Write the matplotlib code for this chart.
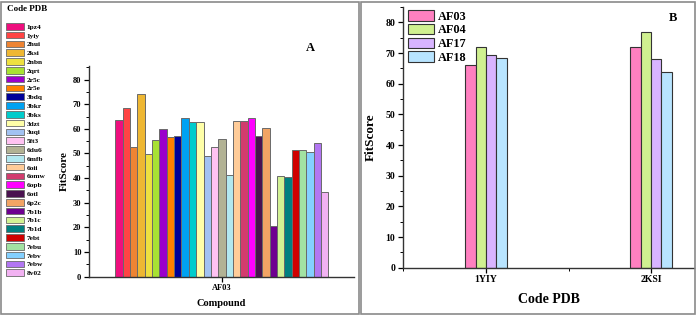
import matplotlib
matplotlib.use("Agg")
import matplotlib.pyplot as plt
from matplotlib.patches import Rectangle, Patch
from matplotlib.ticker import MultipleLocator

plt.rcParams["font.family"] = ["Liberation Serif", "DejaVu Serif"]
plt.rcParams["font.weight"] = "bold"

# panel A: one compound (AF03) docked against 29 PDB codes
pdb_codes = ["1pz4", "1yiy", "2hui", "2ksi", "2nbn", "2qrt", "2r5c", "2r5e", "3bdq",
             "3bkr", "3bks", "3dzt", "3uqi", "5ft3", "6du6", "6mfb", "6oii", "6omw",
             "6opb", "6otl", "6p2c", "7b1b", "7b1c", "7b1d", "7ebt", "7ebu", "7ebv",
             "7ebw", "8v02"]
fit_af03 = [63.4, 68.6, 52.6, 74.3, 49.9, 55.6, 59.9, 56.6, 57.0,
            64.2, 62.8, 62.9, 49.1, 52.5, 56.0, 41.2, 63.3, 63.3,
            64.4, 57.0, 60.4, 20.5, 40.9, 40.5, 51.5, 51.4, 50.8,
            54.2, 34.3]
pdb_colors = ["#EE0F7E", "#FF4444", "#EE8433", "#EEB733", "#EEE040", "#A8E233",
              "#9B00CC", "#FF8000", "#000099", "#00A2F2", "#00CCCC", "#FFFFA8",
              "#A2C2F2", "#FFC2F2", "#B2B294", "#B2E8F0", "#FFCC99", "#D23C6E",
              "#FF00FF", "#4A1250", "#F2A464", "#6E0090", "#D2F294", "#008080",
              "#D00000", "#A2E2A2", "#84D0FF", "#B276F2", "#F2B2F2"]

# panel B: four compounds on two targets
targets = ["1YIY", "2KSI"]
compounds = ["AF03", "AF04", "AF17", "AF18"]
fit_b = {
    "AF03": [66.2, 71.8],
    "AF04": [71.9, 76.9],
    "AF17": [69.5, 68.0],
    "AF18": [68.3, 63.7],
}
comp_colors = ["#FF80C0", "#D0F090", "#D8B4FF", "#B8E4FF"]

W, H = 696, 315
fig = plt.figure(figsize=(W / 100, H / 100), dpi=100)


def px_axes(x0, x1, ytop, ybot):
    return fig.add_axes([x0 / W, (H - ybot) / H, (x1 - x0) / W, (ybot - ytop) / H])


# gray panel frames
for x0, x1 in [(1, 359), (361, 695)]:
    fig.patches.append(Rectangle((x0 / W, 1 / H), (x1 - x0) / W, (H - 3) / H,
                                 transform=fig.transFigure, fill=False,
                                 edgecolor="#8a8a8a", lw=1.2))


def style_axes(ax, fs):
    for s in ["top", "right"]:
        ax.spines[s].set_visible(False)
    for s in ["left", "bottom"]:
        ax.spines[s].set_color("#333333")
        ax.spines[s].set_linewidth(1.0)
    ax.yaxis.set_major_locator(MultipleLocator(10))
    ax.yaxis.set_minor_locator(MultipleLocator(5))
    ax.tick_params(axis="both", which="major", direction="out", length=3.5,
                   width=0.9, labelsize=fs, pad=2)
    ax.tick_params(axis="y", which="minor", direction="out", length=2, width=0.7)
    for lab in ax.get_yticklabels() + ax.get_xticklabels():
        lab.set_fontweight("bold")


# ---- panel A
axA = px_axes(89, 354, 66, 276.7)
n = len(pdb_codes)
xs = [i - (n - 1) / 2 for i in range(n)]
axA.bar(xs, fit_af03, width=1.0, color=pdb_colors, edgecolor="#6a6a6a",
        linewidth=0.7)
axA.set_xlim(-18.1, 18.0)
axA.set_ylim(0, 85.5)
axA.set_xticks([0])
axA.set_xticklabels(["AF03"])
style_axes(axA, 6)
axA.set_ylabel("FitScore", fontsize=8, fontweight="bold", labelpad=3)
axA.set_xlabel("Compound", fontsize=7.5, fontweight="bold", labelpad=5)
fig.text(310 / W, 1 - 48 / H, "A", fontsize=9, fontweight="bold",
         ha="center", va="center")

fig.text(7 / W, 1 - 9 / H, "Code PDB", fontsize=6.5, fontweight="bold",
         ha="left", va="center")
handles = [Patch(facecolor=c, edgecolor="#6a6a6a", linewidth=0.6) for c in pdb_colors]
legA = fig.legend(handles, pdb_codes, loc="upper left",
                  bbox_to_anchor=(5 / W, 1 - 21.5 / H), frameon=False,
                  fontsize=5.3, handlelength=2.4, handleheight=1.0,
                  handletextpad=0.3, labelspacing=0.27, borderaxespad=0,
                  borderpad=0.2)
for t in legA.get_texts():
    t.set_fontweight("bold")

# ---- panel B
axB = px_axes(403, 694, 7, 267.7)
bw = 0.0625
for k, comp in enumerate(compounds):
    off = (k - 1.5) * bw
    axB.bar([i + 1 + off for i in range(len(targets))], fit_b[comp], width=bw,
            color=comp_colors[k], edgecolor="#333333", linewidth=0.8, label=comp)
axB.set_xlim(0.497, 2.26)
axB.set_ylim(0, 85)
axB.set_xticks([1, 2])
axB.set_xticklabels(targets)
axB.xaxis.set_minor_locator(MultipleLocator(0.5))
style_axes(axB, 7)
axB.tick_params(axis="x", which="minor", direction="out", length=2, width=0.7)
axB.set_ylabel("FitScore", fontsize=9.5, fontweight="bold", labelpad=6)
axB.set_xlabel("Code PDB", fontsize=10, fontweight="bold", labelpad=6)
fig.text(673 / W, 1 - 18 / H, "B", fontsize=9, fontweight="bold",
         ha="center", va="center")
legB = axB.legend(loc="upper left", bbox_to_anchor=(0.01, 0.997), frameon=False,
                  fontsize=8.8, handlelength=2.1, handleheight=0.95,
                  handletextpad=0.3, labelspacing=0.1, borderaxespad=0.1,
                  borderpad=0.1)
for t in legB.get_texts():
    t.set_fontweight("bold")

fig.savefig("out.png", dpi=100)
